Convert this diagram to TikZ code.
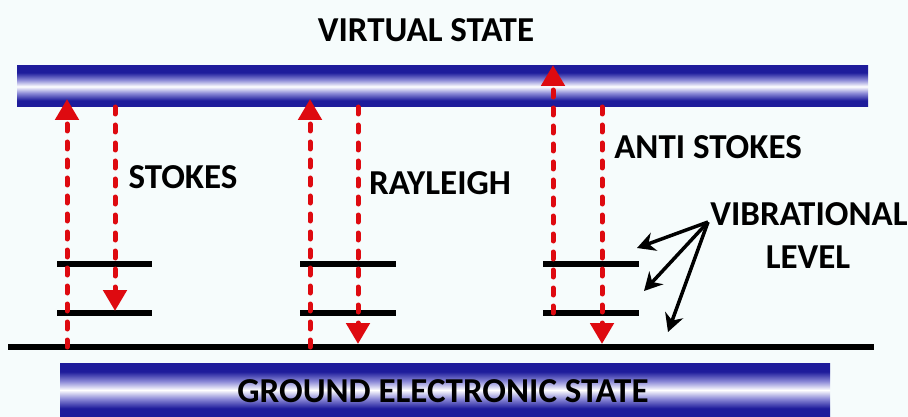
\documentclass[tikz,border=0pt]{standalone}
\usepackage{fontspec}
\setmainfont{Carlito}
\usetikzlibrary{arrows.meta}
\definecolor{bgc}{RGB}{246,252,252}
\definecolor{navy}{RGB}{30,28,155}
\definecolor{lav}{RGB}{140,138,215}
\definecolor{ramanred}{RGB}{222,10,16}
\pgfdeclareverticalshading{barshade}{100bp}{color(0bp)=(navy); color(25bp)=(navy); color(33bp)=(navy); color(42bp)=(lav); color(50bp)=(white); color(58bp)=(lav); color(67bp)=(navy); color(75bp)=(navy); color(100bp)=(navy)}
\tikzset{
  lbl/.style={font=\fontsize{35}{38}\selectfont\bfseries, inner sep=0pt, text height=22pt, text depth=0pt, anchor=center},
  energybar/.style={shading=barshade},
  level/.style={line width=5.5pt, black},
  ramanup/.style={ramanred, line width=5pt, line cap=round, dash pattern=on 7pt off 11pt, -{Triangle[width=23pt,length=21pt]}},
  pointer/.style={black, line width=3.5pt, -{Stealth[width=19pt,length=18pt]}}
}
\begin{document}
\begin{tikzpicture}[x=1pt,y=-1pt]
\useasboundingbox (0,0) rectangle (908,417);
\fill[bgc] (0,0) rectangle (908,417);
% bars
\shade[energybar] (17,66) rectangle (868,107);
\shade[energybar] (60,363) rectangle (830,417);
\node[lbl] (virtual) at (426,31) {VIRTUAL STATE};
\node[lbl] (ground) at (443,391) {GROUND ELECTRONIC STATE};
% ground line
\coordinate (gl) at (8,347);
\coordinate (gr) at (874,347);
\draw[level] (gl) -- (gr);
% vibrational levels
\foreach \n/\xa/\xb in {s/57/152, r/300/396, a/543/639}{
  \coordinate (\n1l) at (\xa,264); \coordinate (\n1r) at (\xb,264);
  \coordinate (\n2l) at (\xa,313); \coordinate (\n2r) at (\xb,313);
  \draw[level] (\n1l) -- (\n1r);
  \draw[level] (\n2l) -- (\n2r);
}
% stokes
\coordinate (su0) at (67,347); \coordinate (su1) at (67,99);
\coordinate (sd0) at (115,107); \coordinate (sd1) at (115,311);
\draw[ramanup] (su0) -- (su1);
\draw[ramanup] (sd0) -- (sd1);
% rayleigh
\coordinate (ru0) at (310,347); \coordinate (ru1) at (310,99);
\coordinate (rd0) at (358,107); \coordinate (rd1) at (358,344);
\draw[ramanup] (ru0) -- (ru1);
\draw[ramanup] (rd0) -- (rd1);
% anti stokes
\coordinate (au0) at (553,313); \coordinate (au1) at (553,65);
\coordinate (ad0) at (602,107); \coordinate (ad1) at (602,344);
\draw[ramanup] (au0) -- (au1);
\draw[ramanup] (ad0) -- (ad1);
% labels
\node[lbl] (stokes) at (183,178) {STOKES};
\node[lbl] (rayleigh) at (440,183) {RAYLEIGH};
\node[lbl] (anti) at (708,148) {ANTI STOKES};
\node[lbl] (vib) at (809,214) {VIBRATIONAL};
\node[lbl] (lev) at (808,257) {LEVEL};
% pointers
\coordinate (po) at (708,222);
\coordinate (p1) at (637,248);
\coordinate (p2) at (644,291);
\coordinate (p3) at (668,332);
\draw[pointer] (po) -- (p1);
\draw[pointer] (po) -- (p2);
\draw[pointer] (po) -- (p3);
\end{tikzpicture}
\end{document}
